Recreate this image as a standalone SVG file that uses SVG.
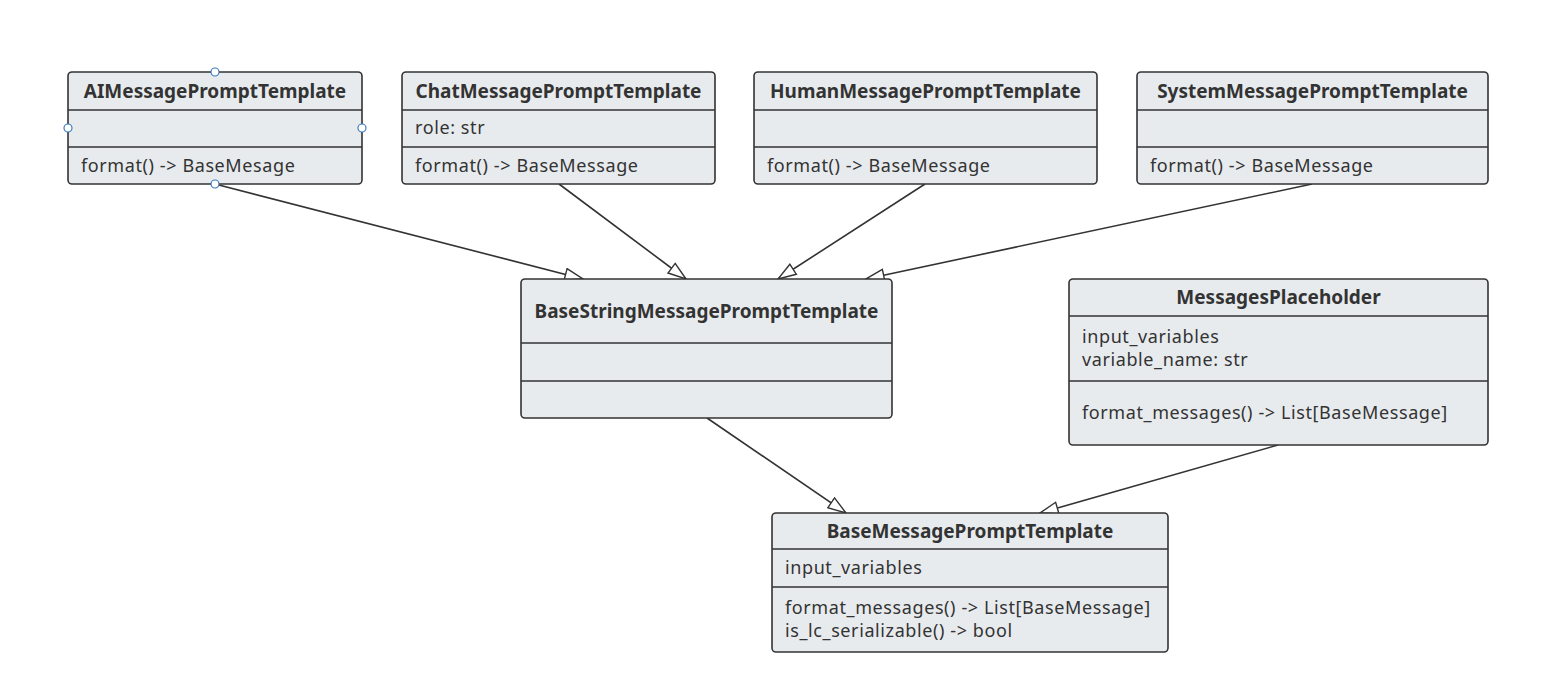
<svg xmlns="http://www.w3.org/2000/svg" width="1562" height="699" viewBox="0 0 1562 699">
<defs>
<style>
.box{fill:#e8ebee;stroke:#333;stroke-width:1.6}
.div{stroke:#333;stroke-width:1.6}
.t{font-family:"Noto Sans","Open Sans",sans-serif;font-size:19px;font-weight:bold;fill:#333;text-anchor:middle}
.b{font-family:"Noto Sans","Open Sans",sans-serif;font-size:18px;letter-spacing:0.6px;fill:#333}
.e{fill:none;stroke:#333;stroke-width:1.6}
.h{fill:#fff;stroke:#3b7bbf;stroke-width:1.2}
</style>
<marker id="tri" viewBox="0 0 20 14" refX="19" refY="7" markerWidth="20" markerHeight="14" markerUnits="userSpaceOnUse" orient="auto">
<path d="M1,1 L19,7 L1,13 Z" fill="#fff" stroke="#333" stroke-width="1.4"/>
</marker>
</defs>
<rect width="1562" height="699" fill="#fff"/>
<g id="connectors">
<path class="e" d="M215,184 L583,279" marker-end="url(#tri)"/>
<path class="e" d="M559,184 L686,279" marker-end="url(#tri)"/>
<path class="e" d="M925,184 L778,279" marker-end="url(#tri)"/>
<path class="e" d="M1312,184 L866,279" marker-end="url(#tri)"/>
<path class="e" d="M707,418 L846,513" marker-end="url(#tri)"/>
<path class="e" d="M1278,445 L1040,513" marker-end="url(#tri)"/>
</g>
<g id="AIMessagePromptTemplate">
<rect class="box" x="68" y="72" width="294" height="112" rx="4"/>
<line class="div" x1="68" y1="110" x2="362" y2="110"/>
<line class="div" x1="68" y1="147" x2="362" y2="147"/>
<text class="t" x="215" y="98">AIMessagePromptTemplate</text>
<text class="b" x="81" y="172">format() -&gt; BaseMesage</text>
<circle class="h" cx="215" cy="72" r="4"/>
<circle class="h" cx="68" cy="128" r="4"/>
<circle class="h" cx="362" cy="128" r="4"/>
<circle class="h" cx="215" cy="184" r="4"/>
</g>
<g id="ChatMessagePromptTemplate">
<rect class="box" x="402" y="72" width="313" height="112" rx="4"/>
<line class="div" x1="402" y1="110" x2="715" y2="110"/>
<line class="div" x1="402" y1="147" x2="715" y2="147"/>
<text class="t" x="558.5" y="98">ChatMessagePromptTemplate</text>
<text class="b" x="415" y="134">role: str</text>
<text class="b" x="415" y="172">format() -&gt; BaseMessage</text>
</g>
<g id="HumanMessagePromptTemplate">
<rect class="box" x="754" y="72" width="343" height="112" rx="4"/>
<line class="div" x1="754" y1="110" x2="1097" y2="110"/>
<line class="div" x1="754" y1="147" x2="1097" y2="147"/>
<text class="t" x="925.5" y="98">HumanMessagePromptTemplate</text>
<text class="b" x="767" y="172">format() -&gt; BaseMessage</text>
</g>
<g id="SystemMessagePromptTemplate">
<rect class="box" x="1137" y="72" width="351" height="112" rx="4"/>
<line class="div" x1="1137" y1="110" x2="1488" y2="110"/>
<line class="div" x1="1137" y1="147" x2="1488" y2="147"/>
<text class="t" x="1312.5" y="98">SystemMessagePromptTemplate</text>
<text class="b" x="1150" y="172">format() -&gt; BaseMessage</text>
</g>
<g id="BaseStringMessagePromptTemplate">
<rect class="box" x="521" y="279" width="371" height="139" rx="4"/>
<line class="div" x1="521" y1="343" x2="892" y2="343"/>
<line class="div" x1="521" y1="381" x2="892" y2="381"/>
<text class="t" x="706.5" y="318">BaseStringMessagePromptTemplate</text>
</g>
<g id="MessagesPlaceholder">
<rect class="box" x="1069" y="279" width="419" height="166" rx="4"/>
<line class="div" x1="1069" y1="316" x2="1488" y2="316"/>
<line class="div" x1="1069" y1="381" x2="1488" y2="381"/>
<text class="t" x="1278.5" y="304">MessagesPlaceholder</text>
<text class="b" x="1082" y="343">input_variables</text>
<text class="b" x="1082" y="366">variable_name: str</text>
<text class="b" x="1082" y="419">format_messages() -&gt; List[BaseMessage]</text>
</g>
<g id="BaseMessagePromptTemplate">
<rect class="box" x="772" y="513" width="396" height="139" rx="4"/>
<line class="div" x1="772" y1="549" x2="1168" y2="549"/>
<line class="div" x1="772" y1="587" x2="1168" y2="587"/>
<text class="t" x="970" y="538">BaseMessagePromptTemplate</text>
<text class="b" x="785" y="574">input_variables</text>
<text class="b" x="785" y="614">format_messages() -&gt; List[BaseMessage]</text>
<text class="b" x="785" y="637">is_lc_serializable() -&gt; bool</text>
</g>
</svg>
